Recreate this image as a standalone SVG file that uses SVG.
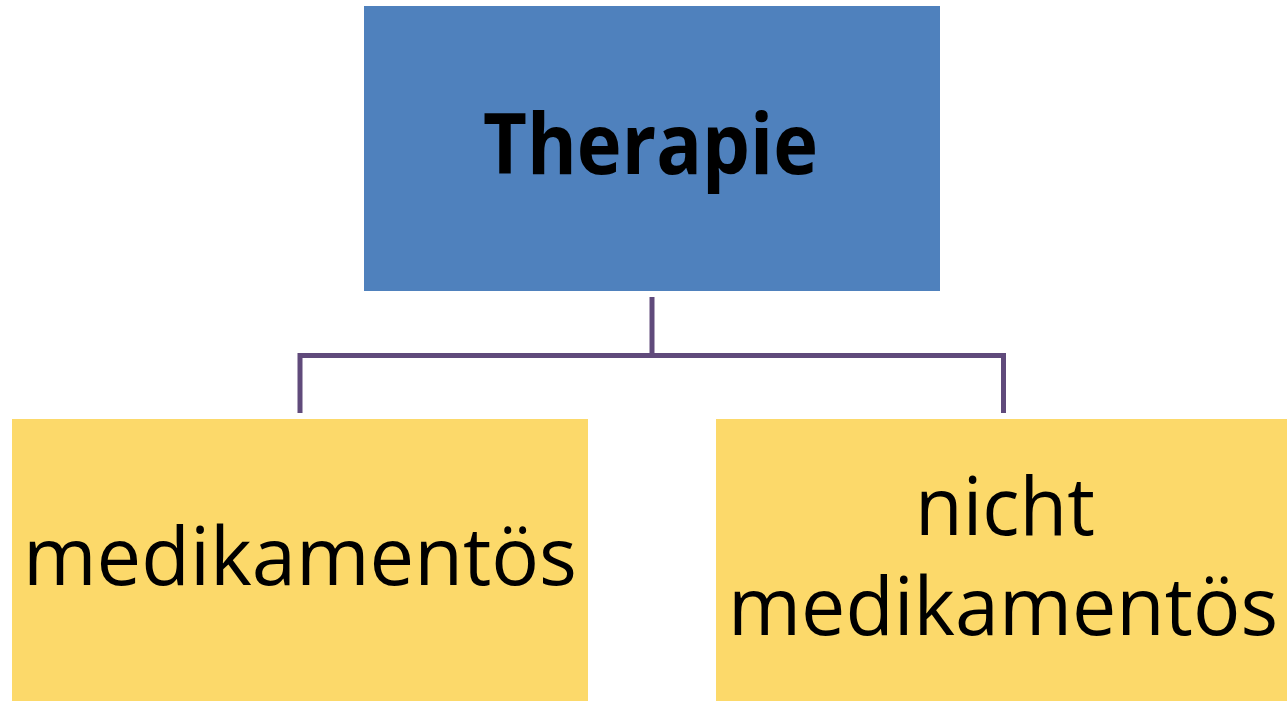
<svg xmlns="http://www.w3.org/2000/svg" width="1287" height="701" viewBox="0 0 1287 701">
<style>
.top{fill:#4F81BD}
.leaf{fill:#FCD96A}
.conn{fill:none;stroke:#604A7B;stroke-width:5;stroke-linejoin:miter}
text{font-family:"Open Sans","Noto Sans","Liberation Sans",sans-serif;fill:#000;text-anchor:middle}
.b{font-weight:bold;font-size:84px}
.n{font-size:80px}
</style>
<rect width="1287" height="701" fill="#fff"/>
<g id="connectors">
<path class="conn" d="M652 297V355"/>
<path class="conn" d="M300 413V355.5H1003.5V413"/>
</g>
<g id="node-therapie">
<rect class="top" x="364" y="6" width="576" height="285"/>
<text class="b" x="650.5" y="174" textLength="335" lengthAdjust="spacingAndGlyphs">Therapie</text>
</g>
<g id="node-medikamentoes">
<rect class="leaf" x="12" y="419" width="576" height="282"/>
<text class="n" x="300" y="585" textLength="554" lengthAdjust="spacingAndGlyphs">medikamentös</text>
</g>
<g id="node-nicht-medikamentoes">
<rect class="leaf" x="716" y="419" width="571" height="282"/>
<text class="n" x="1005" y="535" textLength="180" lengthAdjust="spacingAndGlyphs">nicht</text>
<text class="n" x="1003" y="635" textLength="550" lengthAdjust="spacingAndGlyphs">medikamentös</text>
</g>
</svg>
